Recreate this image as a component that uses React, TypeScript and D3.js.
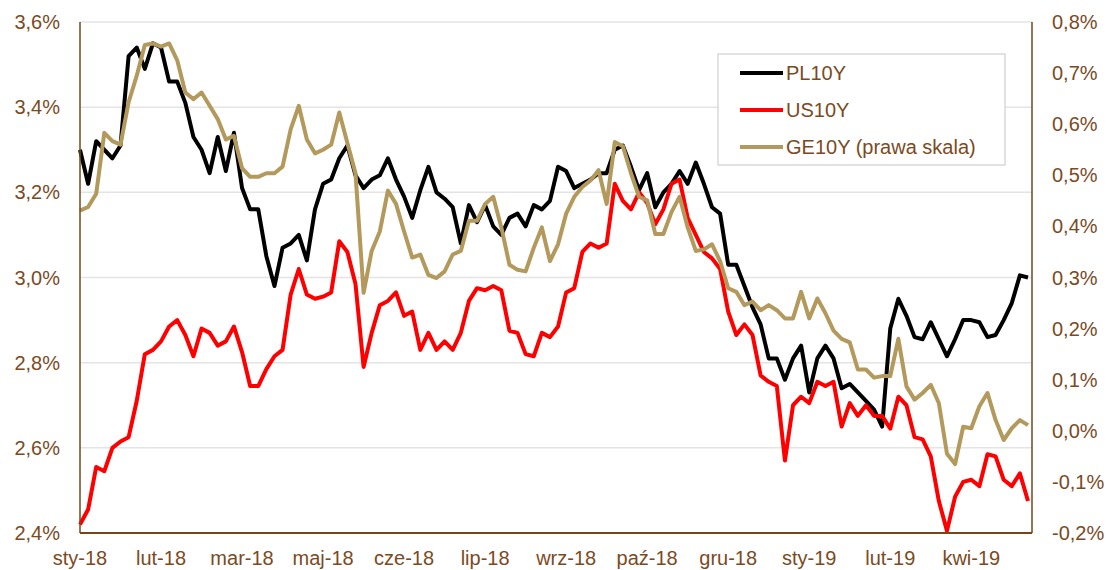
import React from 'react';
import * as d3 from 'd3';

// x-axis labels, one every 10 samples (samples are ~3 business days apart)
const tickLabels = ['sty-18', 'lut-18', 'mar-18', 'maj-18', 'cze-18', 'lip-18', 'wrz-18', 'paź-18', 'gru-18', 'sty-19', 'lut-19', 'kwi-19'];
const labelEvery = 10;

const leftTicks = [2.4, 2.6, 2.8, 3.0, 3.2, 3.4, 3.6];
const rightTicks = [-0.2, -0.1, 0.0, 0.1, 0.2, 0.3, 0.4, 0.5, 0.6, 0.7, 0.8];

const pl10y = [
  3.30, 3.22, 3.32, 3.30, 3.28, 3.31, 3.52, 3.54, 3.49, 3.55,
  3.54, 3.46, 3.46, 3.41, 3.33, 3.30, 3.245, 3.33, 3.25, 3.34,
  3.21, 3.16, 3.16, 3.05, 2.98, 3.07, 3.08, 3.10, 3.04, 3.16,
  3.22, 3.23, 3.28, 3.31, 3.24, 3.21, 3.23, 3.24, 3.28, 3.23,
  3.19, 3.14, 3.205, 3.26, 3.20, 3.185, 3.165, 3.08, 3.17, 3.13,
  3.17, 3.12, 3.10, 3.14, 3.15, 3.12, 3.17, 3.16, 3.18, 3.26,
  3.25, 3.21, 3.22, 3.23, 3.245, 3.245, 3.30, 3.31, 3.26, 3.205,
  3.245, 3.165, 3.20, 3.22, 3.25, 3.22, 3.27, 3.22, 3.165, 3.15,
  3.03, 3.03, 2.98, 2.93, 2.89, 2.81, 2.81, 2.76, 2.81, 2.84,
  2.73, 2.81, 2.84, 2.81, 2.74, 2.75, 2.73, 2.71, 2.69, 2.65,
  2.88, 2.95, 2.91, 2.86, 2.855, 2.895, 2.855, 2.815, 2.855, 2.90,
  2.90, 2.895, 2.86, 2.865, 2.90, 2.94, 3.005, 3.00,
];

const us10y = [
  2.42, 2.455, 2.555, 2.545, 2.60, 2.615, 2.625, 2.71, 2.82, 2.83,
  2.85, 2.885, 2.90, 2.865, 2.815, 2.88, 2.87, 2.84, 2.85, 2.885,
  2.825, 2.745, 2.745, 2.785, 2.815, 2.83, 2.96, 3.02, 2.96, 2.95,
  2.955, 2.965, 3.085, 3.06, 2.985, 2.79, 2.87, 2.935, 2.945, 2.965,
  2.91, 2.92, 2.83, 2.87, 2.83, 2.85, 2.83, 2.87, 2.945, 2.975,
  2.97, 2.98, 2.97, 2.875, 2.87, 2.82, 2.815, 2.87, 2.86, 2.885,
  2.965, 2.975, 3.06, 3.08, 3.07, 3.08, 3.22, 3.18, 3.16, 3.20,
  3.175, 3.125, 3.16, 3.22, 3.23, 3.14, 3.10, 3.06, 3.045, 3.02,
  2.92, 2.865, 2.89, 2.865, 2.77, 2.755, 2.745, 2.57, 2.70, 2.72,
  2.705, 2.755, 2.745, 2.755, 2.65, 2.705, 2.675, 2.70, 2.675, 2.675,
  2.645, 2.72, 2.70, 2.625, 2.62, 2.58, 2.475, 2.405, 2.485, 2.52,
  2.525, 2.51, 2.585, 2.58, 2.525, 2.51, 2.54, 2.475,
];

// right axis
const ge10y = [
  0.431, 0.438, 0.464, 0.583, 0.567, 0.56, 0.643, 0.695, 0.755, 0.758,
  0.752, 0.758, 0.725, 0.662, 0.649, 0.662, 0.636, 0.61, 0.57, 0.577,
  0.514, 0.497, 0.497, 0.504, 0.504, 0.517, 0.59, 0.636, 0.57, 0.543,
  0.55, 0.56, 0.623, 0.563, 0.504, 0.27, 0.352, 0.39, 0.47, 0.444,
  0.39, 0.339, 0.345, 0.305, 0.299, 0.312, 0.345, 0.352, 0.411, 0.411,
  0.444, 0.458, 0.398, 0.325, 0.315, 0.312, 0.358, 0.398, 0.332, 0.365,
  0.425, 0.458, 0.477, 0.49, 0.51, 0.444, 0.565, 0.557, 0.504, 0.458,
  0.451, 0.385, 0.385, 0.428, 0.458, 0.398, 0.352, 0.355, 0.365, 0.332,
  0.279, 0.272, 0.246, 0.253, 0.236, 0.246, 0.236, 0.22, 0.22, 0.272,
  0.22, 0.259, 0.23, 0.196, 0.18, 0.173, 0.12, 0.12, 0.104, 0.107,
  0.107, 0.18, 0.087, 0.061, 0.074, 0.09, 0.054, -0.045, -0.065, 0.008,
  0.005, 0.048, 0.074, 0.021, -0.018, 0.005, 0.021, 0.011,
];

const seriesNames = ['PL10Y', 'US10Y', 'GE10Y (prawa skala)'];
const colors = ['#000000', '#ff0000', '#b39a5c'];

const App: React.FC = () => {
  const width = 1110;
  const height = 570;
  const left = 80;
  const right = 1032;
  const top = 22;
  const bottom = 533;
  const axisColor = '#74461a';
  const textColor = '#7a4b1f';
  const font = "'Liberation Sans', Arial, sans-serif";

  const x = d3.scaleLinear().domain([0, pl10y.length - 1]).range([left, 1028]);
  const yL = d3.scaleLinear().domain([2.4, 3.6]).range([bottom, top]);
  const yR = d3.scaleLinear().domain([-0.2, 0.8]).range([bottom, top]);

  const lineL = d3.line<number>().x((_, i) => x(i)).y(d => yL(d));
  const lineR = d3.line<number>().x((_, i) => x(i)).y(d => yR(d));

  const fmt = (v: number) => v.toFixed(1).replace('.', ',') + '%';

  const paths = [lineL(pl10y), lineL(us10y), lineR(ge10y)];

  return (
    <svg width={width} height={height} style={{ position: 'absolute', left: 0, top: 0, background: '#fff' }} fontFamily={font}>
      {/* gridlines */}
      {leftTicks.slice(1).map(t => (
        <line key={'g' + t} x1={left} x2={right} y1={yL(t)} y2={yL(t)} stroke="#e4e4e4" strokeWidth={1.5} />
      ))}

      {paths.map((d, i) => (
        <path key={i} d={d || ''} fill="none" stroke={colors[i]} strokeWidth={4} strokeLinejoin="round" />
      ))}

      {/* axes */}
      <line x1={left} x2={left} y1={top} y2={bottom} stroke={axisColor} strokeWidth={1.5} />
      <line x1={right} x2={right} y1={top} y2={bottom} stroke={axisColor} strokeWidth={1.5} />
      <line x1={left} x2={right} y1={bottom} y2={bottom} stroke={axisColor} strokeWidth={2} />

      {leftTicks.map(t => (
        <text key={'l' + t} x={60} y={yL(t)} dy="0.35em" textAnchor="end" fontSize={20} fill={textColor}>{fmt(t)}</text>
      ))}
      {rightTicks.map(t => (
        <text key={'r' + t} x={1052} y={yR(t)} dy="0.35em" textAnchor="start" fontSize={20} fill={textColor}>{fmt(t)}</text>
      ))}
      {tickLabels.map((l, k) => (
        <text key={l} x={x(k * labelEvery)} y={558} dy="0.35em" textAnchor="middle" fontSize={20} fill={textColor}>{l}</text>
      ))}

      {/* legend */}
      <rect x={718} y={54} width={287} height={111} fill="#fff" stroke="#d9d9d9" strokeWidth={1.5} />
      {seriesNames.map((n, i) => (
        <g key={n} transform={`translate(740, ${73 + i * 37})`}>
          <line x1={0} x2={43} y1={0} y2={0} stroke={colors[i]} strokeWidth={4} />
          <text x={46} y={0} dy="0.35em" fontSize={20} fill={textColor}>{n}</text>
        </g>
      ))}
    </svg>
  );
};

export default App;
